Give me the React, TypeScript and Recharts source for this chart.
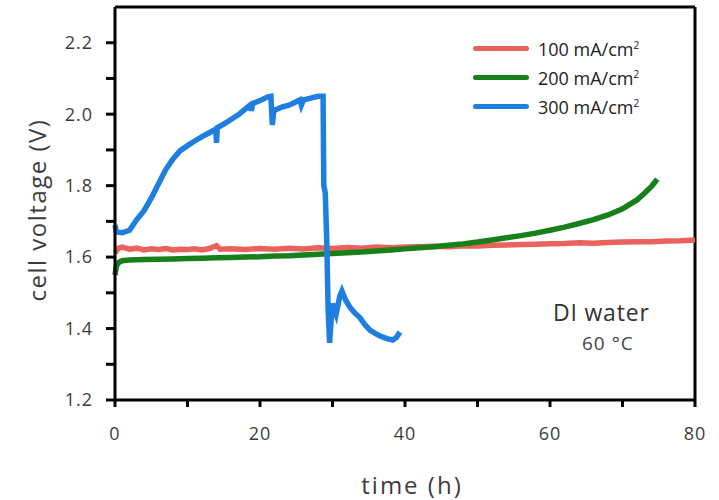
import { Line, LineChart, ReferenceLine, XAxis, YAxis } from "recharts";

// time (h) / voltage (V)
const t100 = [0, 0.5, 1, 2, 3, 4, 5, 6, 7, 8, 9, 10, 11, 12, 13, 14, 14.5, 16, 18, 20, 22, 24, 26, 28, 30, 32, 34, 36, 38, 40, 42, 44, 46, 48, 50, 52, 54, 56, 58, 60, 62, 64, 66, 68, 70, 72, 74, 76, 78, 80];
const v100 = [1.612, 1.625, 1.628, 1.622, 1.625, 1.62, 1.623, 1.621, 1.624, 1.62, 1.622, 1.621, 1.623, 1.62, 1.624, 1.632, 1.622, 1.623, 1.621, 1.624, 1.622, 1.625, 1.623, 1.626, 1.624, 1.627, 1.625, 1.628, 1.626, 1.628, 1.629, 1.63, 1.629, 1.632, 1.631, 1.633, 1.634, 1.635, 1.636, 1.637, 1.638, 1.64, 1.639, 1.641, 1.642, 1.643, 1.643, 1.645, 1.646, 1.648];

const t200 = [0, 0.2, 0.5, 1, 2, 4, 6, 8, 10, 12, 14, 16, 18, 20, 22, 24, 26, 28, 30, 32, 34, 36, 38, 40, 42, 44, 46, 48, 50, 52, 54, 56, 58, 60, 62, 64, 66, 68, 70, 72, 73, 74, 74.8];
const v200 = [1.55, 1.575, 1.585, 1.59, 1.592, 1.593, 1.594, 1.595, 1.596, 1.597, 1.598, 1.599, 1.6, 1.601, 1.603, 1.604, 1.606, 1.608, 1.61, 1.612, 1.614, 1.617, 1.62, 1.623, 1.626, 1.629, 1.633, 1.637, 1.642, 1.648, 1.654, 1.66, 1.667, 1.675, 1.684, 1.694, 1.705, 1.718, 1.735, 1.76, 1.778, 1.798, 1.818];

const t300 = [0, 0.2, 1, 2, 2.5, 3, 4, 5, 6, 7, 8, 9, 10, 11, 12, 13, 13.9, 14, 14.1, 15, 16, 17, 18, 18.6, 18.8, 19, 20, 21, 21.5, 21.7, 21.9, 22.5, 23, 24, 25, 25.5, 25.7, 26, 27, 28, 28.7, 28.8, 29, 29.2, 29.4, 29.6, 29.8, 30, 30.5, 31, 31.3, 31.8, 32.4, 33, 33.8, 34.5, 35.2, 36, 36.5, 37.5, 38.3, 38.8, 39.3];
const v300 = [1.69, 1.67, 1.668, 1.675, 1.69, 1.705, 1.73, 1.765, 1.805, 1.845, 1.875, 1.898, 1.912, 1.925, 1.937, 1.948, 1.958, 1.92, 1.962, 1.972, 1.985, 1.998, 2.015, 2.025, 2.01, 2.03, 2.038, 2.048, 2.05, 1.97, 2.01, 2.015, 2.02, 2.025, 2.035, 2.04, 2.025, 2.04, 2.045, 2.05, 2.05, 1.8, 1.78, 1.65, 1.45, 1.36, 1.42, 1.47, 1.44, 1.49, 1.505, 1.48, 1.46, 1.445, 1.43, 1.41, 1.395, 1.385, 1.38, 1.372, 1.368, 1.375, 1.39];

const xTicks = [0, 10, 20, 30, 40, 50, 60, 70, 80];
const yTicks = [1.2, 1.3, 1.4, 1.5, 1.6, 1.7, 1.8, 1.9, 2.0, 2.1, 2.2];

const series = [
  { name: "100", t: t100, v: v100, color: "#e9625c" },
  { name: "200", t: t200, v: v200, color: "#17801b" },
  { name: "300", t: t300, v: v300, color: "#1f7fe0" },
];

const font = "'Open Sans', sans-serif";
const textColor = "#3c3c3c";
const tickStyle = { fill: textColor, fontSize: 18, fontFamily: font, letterSpacing: 1 };

function LegendBox() {
  return (
    <div style={{ position: "absolute", left: 473, top: 34, fontFamily: font, fontSize: 18, color: "#222" }}>
      {series.map((s) => (
        <div key={s.name} style={{ display: "flex", alignItems: "center", height: 29 }}>
          <span style={{ display: "inline-block", width: 56, height: 5, background: s.color, borderRadius: 3, marginRight: 9 }} />
          <span>
            {s.name} mA/cm<sup style={{ fontSize: 10 }}>2</sup>
          </span>
        </div>
      ))}
    </div>
  );
}

export default function App() {
  return (
    <div style={{ position: "absolute", left: 0, top: 0, width: 719, height: 500, background: "#fff" }}>
      <LineChart width={719} height={500} margin={{ top: 7, right: 24, bottom: 0, left: 0 }}>
        <XAxis
          type="number"
          dataKey="t"
          domain={[0, 80]}
          ticks={xTicks}
          allowDuplicatedCategory={false}
          height={100}
          stroke="#000"
          strokeWidth={3}
          tickSize={7}
          tickMargin={20}
          tick={tickStyle}
          tickFormatter={(v: number) => (v % 20 === 0 ? String(v) : "")}
        />
        <YAxis
          type="number"
          domain={[1.2, 2.3]}
          ticks={yTicks}
          width={115}
          stroke="#000"
          strokeWidth={3}
          tickSize={9}
          tickMargin={13}
          tick={tickStyle}
          tickFormatter={(v: number) => (Math.round(v * 10) % 2 === 0 ? v.toFixed(1) : "")}
        />
        <ReferenceLine y={2.3} stroke="#000" strokeWidth={3} />
        <ReferenceLine x={80} stroke="#000" strokeWidth={3} />
        {series.map((s) => (
          <Line
            key={s.name}
            data={s.t.map((t, i) => ({ t, v: s.v[i] }))}
            dataKey="v"
            name={s.name}
            type="linear"
            stroke={s.color}
            strokeWidth={5.5}
            dot={false}
            isAnimationActive={false}
          />
        ))}
      </LineChart>
      <LegendBox />
      <div style={{ position: "absolute", left: 36, top: 210, transform: "translate(-50%, -50%) rotate(-90deg)", whiteSpace: "nowrap", fontFamily: font, fontSize: 24, letterSpacing: 1.5, color: textColor }}>
        cell voltage (V)
      </div>
      <div style={{ position: "absolute", left: 412, top: 484, transform: "translate(-50%, -50%)", whiteSpace: "nowrap", fontFamily: font, fontSize: 24, letterSpacing: 2, color: textColor }}>
        time (h)
      </div>
      <div style={{ position: "absolute", left: 553, top: 296, fontFamily: font, fontSize: 23, letterSpacing: 0.8, color: "#333" }}>DI water</div>
      <div style={{ position: "absolute", left: 582, top: 330, fontFamily: font, fontSize: 19, letterSpacing: 1, color: "#444" }}>60 °C</div>
    </div>
  );
}
